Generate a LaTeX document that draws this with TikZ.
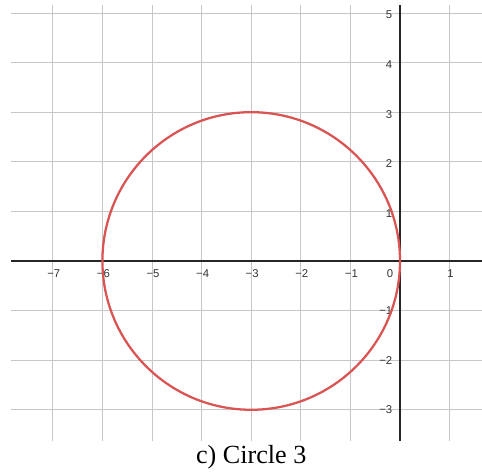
\documentclass[tikz,border=0pt]{standalone}
\usepackage{fontspec}
\setmainfont{Liberation Serif}
\newfontfamily\ticksfont{Liberation Sans}
\usepackage{tikz}
\usetikzlibrary{positioning}

\begin{document}
\begin{tikzpicture}[
        gridline/.style={
            draw=black!22,
            line width=0.55pt
        },
        axisline/.style={
            draw=black!85,
            line width=0.6pt
        },
        circleline/.style={
            draw={rgb,255:red,218;green,84;blue,84},
            line width=1.3pt
        },
        ticklabel/.style={
            inner sep=0pt,
            text=black!80,
            font=\ticksfont\fontsize{6.5}{7}\selectfont
        },
        caption/.style={
            inner sep=0pt,
            font=\fontsize{15}{18}\selectfont
        }
    ]
        \useasboundingbox (-8.065,-4.254) rectangle (1.653,5.262);

        % grid
        \foreach \x in {-7,...,-1,1} {
            \draw[gridline] (\x,-3.63) -- (\x,5.16);
        }
        \foreach \y in {-3,...,-1,1,2,3,4,5} {
            \draw[gridline] (-7.84,\y) -- (1.653,\y);
        }

        % axes
        \draw[axisline] (-7.84,0) -- (1.653,0);
        \draw[axisline] (0,-3.63) -- (0,5.16);

        % tick labels
        \foreach \x [count=\i] in {-7,...,-1} {
            \node[ticklabel, anchor=north] (xlab\i) at (\x+0.02,-0.16) {−\the\numexpr-\x\relax};
        }
        \node[ticklabel, anchor=north] (xlab8) at (1.02,-0.16) {1};
        \node[ticklabel, anchor=north] (origin) at (-0.2,-0.16) {0};
        \foreach \y [count=\i] in {1,...,5} {
            \node[ticklabel, anchor=east] (ylab\i) at (-0.15,\y-0.04) {\y};
        }
        \foreach \y [count=\i] in {1,2,3} {
            \node[ticklabel, anchor=east] (ynlab\i) at (-0.15,-\y) {−\y};
        }

        % circle
        \draw[circleline] (-3,0) circle (3);

        \node[caption, anchor=base] (title) at (-3,-4.09) {c) Circle 3};
    \end{tikzpicture}
\end{document}
